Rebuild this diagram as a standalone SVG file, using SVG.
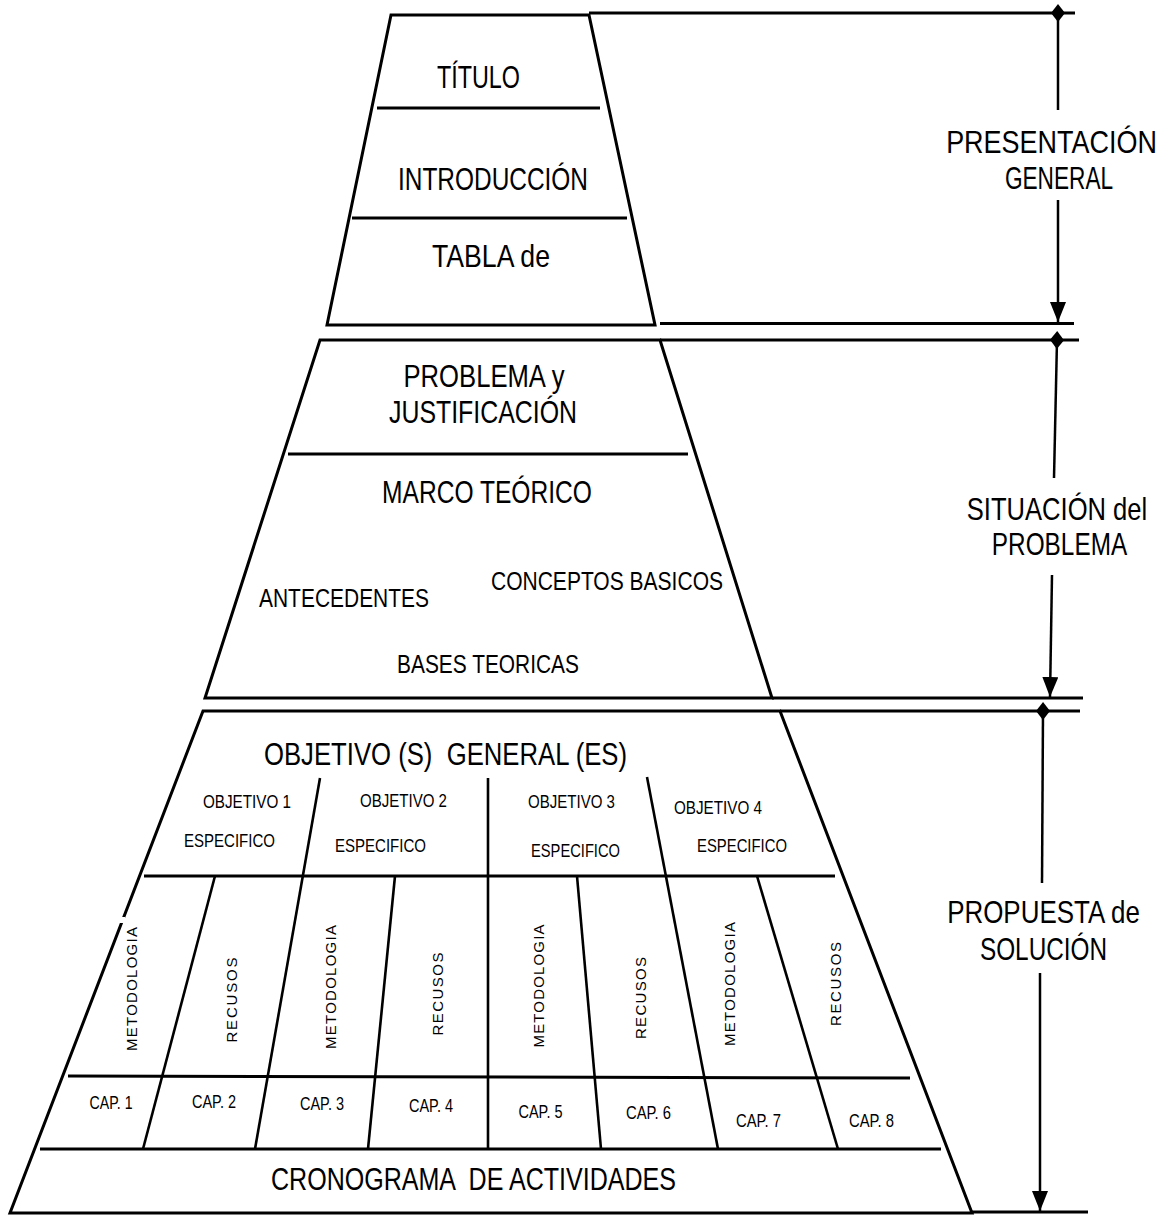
<svg xmlns="http://www.w3.org/2000/svg" width="1164" height="1216" viewBox="0 0 1164 1216">
<style>
  .shape{fill:#fff;stroke:#000;stroke-width:3;stroke-linejoin:miter}
  .ln{stroke:#000;stroke-width:3;fill:none}
  .thin{stroke:#000;stroke-width:2.6;fill:none}
  .conn{stroke:#000;stroke-width:2.5;fill:none}
  text{font-family:"Liberation Sans Narrow","Liberation Sans",Arial,sans-serif;fill:#000;text-anchor:middle;white-space:pre}
  .big{font-size:32px}
  .mid{font-size:25.5px}
  .sm{font-size:18.5px}
  .cap{font-size:17.5px}
  .rot{font-family:"Liberation Sans",Arial,sans-serif;font-size:15px}
</style>
<defs>
  <marker id="arrow" markerUnits="userSpaceOnUse" viewBox="0 -8 20 16" refX="20" refY="0" markerWidth="20" markerHeight="16" orient="auto">
    <path d="M0,-8 L20,0 L0,8 Z" fill="#000"/>
  </marker>
  <marker id="diamond" markerUnits="userSpaceOnUse" viewBox="-9 -7 18 14" refX="0" refY="0" markerWidth="18" markerHeight="14" orient="auto">
    <path d="M-9,0 L0,-7 L9,0 L0,7 Z" fill="#000"/>
  </marker>
</defs>
<rect width="1164" height="1216" fill="#fff"/>

<g id="connectors">
  <line class="ln" x1="589" y1="13" x2="1075" y2="13"/>
  <line class="ln" x1="660" y1="323.5" x2="1074" y2="323.5"/>
  <line class="ln" x1="660" y1="340" x2="1079" y2="340"/>
  <line class="ln" x1="772" y1="698" x2="1083" y2="698"/>
  <line class="ln" x1="780" y1="711" x2="1080" y2="711"/>
  <line class="ln" x1="972" y1="1212" x2="1088" y2="1212"/>
  <path class="conn" d="M1058,13 L1058,110" marker-start="url(#diamond)"/>
  <path class="conn" d="M1058,200 L1058,322" marker-end="url(#arrow)"/>
  <path class="conn" d="M1057,340 L1054,478" marker-start="url(#diamond)"/>
  <path class="conn" d="M1052,575 L1050,697" marker-end="url(#arrow)"/>
  <path class="conn" d="M1043,711 L1042,883" marker-start="url(#diamond)"/>
  <path class="conn" d="M1040,973 L1040,1211" marker-end="url(#arrow)"/>
</g>

<g id="presentacion">
  <polygon class="shape" points="391,15 589,15 655,325 327,325"/>
  <line class="ln" x1="377" y1="108" x2="600" y2="108"/>
  <line class="ln" x1="352" y1="218" x2="627" y2="218"/>
  <text class="big" x="478.5" y="88" textLength="83" lengthAdjust="spacingAndGlyphs">TÍTULO</text>
  <text class="big" x="493" y="190" textLength="190" lengthAdjust="spacingAndGlyphs">INTRODUCCIÓN</text>
  <text class="big" x="491" y="267" textLength="118" lengthAdjust="spacingAndGlyphs">TABLA de</text>
</g>

<g id="situacion">
  <polygon class="shape" points="320,340 660,340 772,698 205,698"/>
  <line class="ln" x1="288" y1="454" x2="688" y2="454"/>
  <text class="big" x="484" y="387" textLength="161" lengthAdjust="spacingAndGlyphs">PROBLEMA y</text>
  <text class="big" x="483" y="423" textLength="188" lengthAdjust="spacingAndGlyphs">JUSTIFICACIÓN</text>
  <text class="big" x="487" y="503" textLength="210" lengthAdjust="spacingAndGlyphs">MARCO TEÓRICO</text>
  <text class="mid" x="344" y="607" textLength="170" lengthAdjust="spacingAndGlyphs">ANTECEDENTES</text>
  <text class="mid" x="607" y="590" textLength="232" lengthAdjust="spacingAndGlyphs">CONCEPTOS BASICOS</text>
  <text class="mid" x="488" y="673" textLength="182" lengthAdjust="spacingAndGlyphs">BASES TEORICAS</text>
</g>

<g id="propuesta">
  <polygon class="shape" points="203,711 780,711 972,1213 10,1213"/>
  <rect x="116" y="917" width="9" height="6" fill="#fff"/>
  <line class="ln" x1="144" y1="876" x2="835" y2="876"/>
  <line class="ln" x1="68" y1="1076" x2="910" y2="1078"/>
  <line class="ln" x1="40" y1="1149" x2="941" y2="1149"/>
  <line class="thin" x1="320" y1="778" x2="255" y2="1149"/>
  <line class="thin" x1="488" y1="778" x2="488" y2="1149"/>
  <line class="thin" x1="647" y1="777" x2="718" y2="1149"/>
  <line class="thin" x1="215" y1="876" x2="143" y2="1149"/>
  <line class="thin" x1="395" y1="876" x2="368" y2="1149"/>
  <line class="thin" x1="577" y1="876" x2="601" y2="1149"/>
  <line class="thin" x1="757" y1="876" x2="838" y2="1149"/>
  <text class="big" x="445.5" y="765" textLength="363" lengthAdjust="spacingAndGlyphs">OBJETIVO (S)  GENERAL (ES)</text>
  <text class="sm" x="247" y="808" textLength="88" lengthAdjust="spacingAndGlyphs">OBJETIVO 1</text>
  <text class="sm" x="229.5" y="847" textLength="91" lengthAdjust="spacingAndGlyphs">ESPECIFICO</text>
  <text class="sm" x="403.5" y="807" textLength="87" lengthAdjust="spacingAndGlyphs">OBJETIVO 2</text>
  <text class="sm" x="380.5" y="852" textLength="91" lengthAdjust="spacingAndGlyphs">ESPECIFICO</text>
  <text class="sm" x="571.5" y="808" textLength="87" lengthAdjust="spacingAndGlyphs">OBJETIVO 3</text>
  <text class="sm" x="575.5" y="857" textLength="89" lengthAdjust="spacingAndGlyphs">ESPECIFICO</text>
  <text class="sm" x="718" y="814" textLength="88" lengthAdjust="spacingAndGlyphs">OBJETIVO 4</text>
  <text class="sm" x="742" y="852" textLength="90" lengthAdjust="spacingAndGlyphs">ESPECIFICO</text>
  <text class="rot" x="137" y="989" transform="rotate(-90 137 989)" textLength="124" lengthAdjust="spacing">METODOLOGIA</text>
  <text class="rot" x="237" y="1000" transform="rotate(-90 237 1000)" textLength="85" lengthAdjust="spacing">RECUSOS</text>
  <text class="rot" x="336" y="987" transform="rotate(-90 336 987)" textLength="124" lengthAdjust="spacing">METODOLOGIA</text>
  <text class="rot" x="443" y="994" transform="rotate(-90 443 994)" textLength="83" lengthAdjust="spacing">RECUSOS</text>
  <text class="rot" x="544" y="986" transform="rotate(-90 544 986)" textLength="123" lengthAdjust="spacing">METODOLOGIA</text>
  <text class="rot" x="646" y="998" transform="rotate(-90 646 998)" textLength="82" lengthAdjust="spacing">RECUSOS</text>
  <text class="rot" x="735" y="984" transform="rotate(-90 735 984)" textLength="124" lengthAdjust="spacing">METODOLOGIA</text>
  <text class="rot" x="841" y="984" transform="rotate(-90 841 984)" textLength="84" lengthAdjust="spacing">RECUSOS</text>
  <text class="cap" x="111" y="1109" textLength="43" lengthAdjust="spacingAndGlyphs">CAP. 1</text>
  <text class="cap" x="214" y="1108" textLength="44" lengthAdjust="spacingAndGlyphs">CAP. 2</text>
  <text class="cap" x="322" y="1110" textLength="44" lengthAdjust="spacingAndGlyphs">CAP. 3</text>
  <text class="cap" x="431" y="1112" textLength="44" lengthAdjust="spacingAndGlyphs">CAP. 4</text>
  <text class="cap" x="540.5" y="1118" textLength="44" lengthAdjust="spacingAndGlyphs">CAP. 5</text>
  <text class="cap" x="648.5" y="1119" textLength="45" lengthAdjust="spacingAndGlyphs">CAP. 6</text>
  <text class="cap" x="758.5" y="1127" textLength="45" lengthAdjust="spacingAndGlyphs">CAP. 7</text>
  <text class="cap" x="871.5" y="1127" textLength="45" lengthAdjust="spacingAndGlyphs">CAP. 8</text>
  <text class="big" x="473.5" y="1190" textLength="405" lengthAdjust="spacingAndGlyphs">CRONOGRAMA  DE ACTIVIDADES</text>
</g>

<g id="label-presentacion">
  <text class="big" transform="translate(1051.5,153) scale(0.82,1)" x="0" y="0" textLength="257" lengthAdjust="spacingAndGlyphs">PRESENTACIÓN</text>
  <text class="big" transform="translate(1059,189) scale(0.82,1)" x="0" y="0" textLength="132" lengthAdjust="spacingAndGlyphs">GENERAL</text>
</g>
<g id="label-situacion">
  <text class="big" transform="translate(1057,520) scale(0.82,1)" x="0" y="0" textLength="220" lengthAdjust="spacingAndGlyphs">SITUACIÓN del</text>
  <text class="big" transform="translate(1059.5,555) scale(0.82,1)" x="0" y="0" textLength="165" lengthAdjust="spacingAndGlyphs">PROBLEMA</text>
</g>
<g id="label-propuesta">
  <text class="big" transform="translate(1043.5,923) scale(0.82,1)" x="0" y="0" textLength="235" lengthAdjust="spacingAndGlyphs">PROPUESTA de</text>
  <text class="big" transform="translate(1043.5,960) scale(0.82,1)" x="0" y="0" textLength="155" lengthAdjust="spacingAndGlyphs">SOLUCIÓN</text>
</g>
</svg>
